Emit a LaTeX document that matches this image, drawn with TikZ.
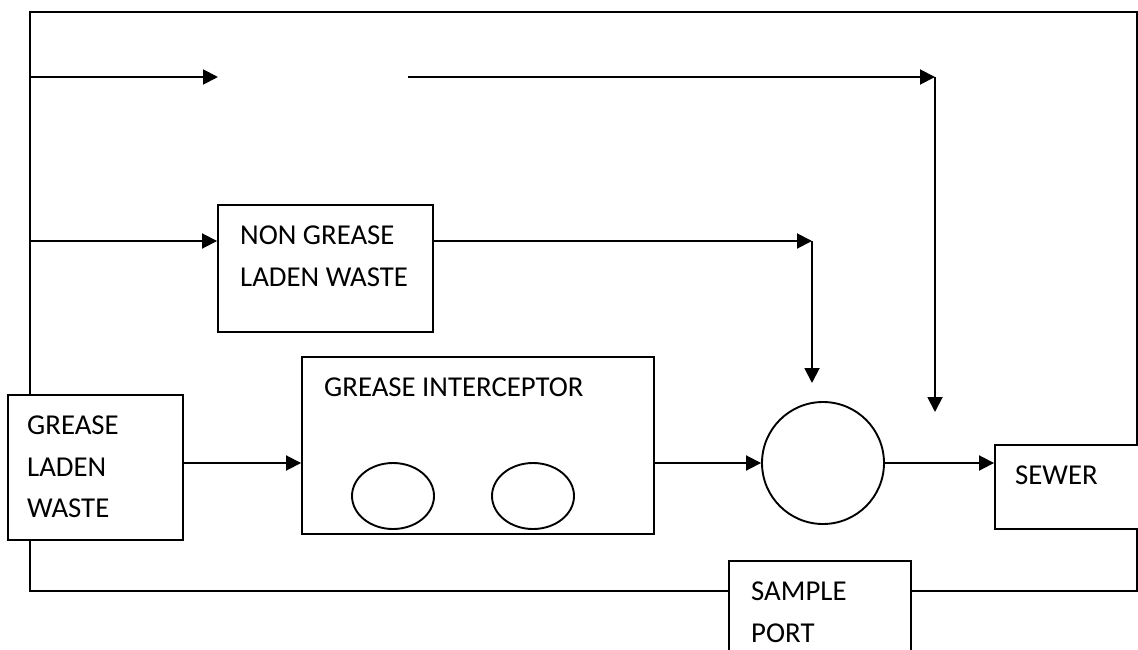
\documentclass[tikz,border=0pt]{standalone}
\usepackage{fontspec}
\setmainfont{Carlito}
\usetikzlibrary{arrows.meta,shapes.geometric}
\tikzset{
  pipe/.style={line width=1.9pt},
  flow/.style={pipe,-{Triangle[length=15pt,width=15pt]}},
  unit/.style={draw,line width=1.9pt,rectangle,inner sep=0pt},
  lbl/.style={anchor=north west,inner sep=0pt,align=left,font=\fontsize{28.8}{41.5}\selectfont},
}
\begin{document}
\begin{tikzpicture}[x=1pt,y=-1pt]
\useasboundingbox (0,0) rectangle (1138,650);
% units
\node[unit,minimum width=175pt,minimum height=145pt] (glw) at (95.5,467.5) {};
\node[unit,minimum width=215pt,minimum height=127pt] (ngw) at (325.5,268.5) {};
\node[unit,minimum width=352pt,minimum height=177pt] (gi) at (478,445.5) {};
\node[draw,pipe,circle,minimum size=122pt,inner sep=0pt] (mh) at (823,463) {};
\node[unit,minimum width=160pt,minimum height=84pt] (sewer) at (1075,487) {};
\node[unit,minimum width=182pt,minimum height=110pt] (sp) at (820,616) {};
\node[draw,pipe,ellipse,minimum width=82pt,minimum height=66pt,inner sep=0pt] (e1) at (393,496) {};
\node[draw,pipe,ellipse,minimum width=82pt,minimum height=66pt,inner sep=0pt] (e2) at (533,496) {};
% texts
\node[lbl] (glwtext) at (27,416) {GREASE\\LADEN\\WASTE};
\node[lbl] (ngwtext) at (240,226) {NON GREASE\\LADEN WASTE};
\node[lbl] (gitext) at (324,378) {GREASE INTERCEPTOR};
\node[lbl] (sewertext) at (1015,466) {SEWER};
\node[lbl] (sptext) at (751,582) {SAMPLE\\PORT};
% frame
\coordinate (tl) at (30,12);
\coordinate (tr) at (1137,12);
\coordinate (bl) at (30,591);
\coordinate (br) at (1137,591);
\draw[pipe] (glw.north -| tl) -- (tl) -- (tr) -- (sewer.north -| tr);
\draw[pipe] (glw.south -| bl) -- (bl) -- (sp.west |- bl);
\draw[pipe] (sp.east |- br) -- (br) -- (sewer.south -| br);
% bypass lines
\coordinate (topin) at (218,77);
\coordinate (topout) at (408,77);
\coordinate (topcorner) at (935,77);
\coordinate (topend) at (935,412);
\coordinate (midcorner) at (812,241);
\coordinate (midend) at (812,383);
\draw[flow] (tl |- topin) -- (topin);
\draw[flow] (topout) -- (topcorner);
\draw[flow] (topcorner) -- (topend);
\draw[flow] (tl |- midcorner) -- (ngw.west |- midcorner);
\draw[flow] (ngw.east |- midcorner) -- (midcorner);
\draw[flow] (midcorner) -- (midend);
% main line
\draw[flow] (glw.east |- mh) -- (gi.west |- mh);
\draw[flow] (gi.east |- mh) -- (mh);
\draw[flow] (mh) -- (sewer.west |- mh);
\end{tikzpicture}
\end{document}
